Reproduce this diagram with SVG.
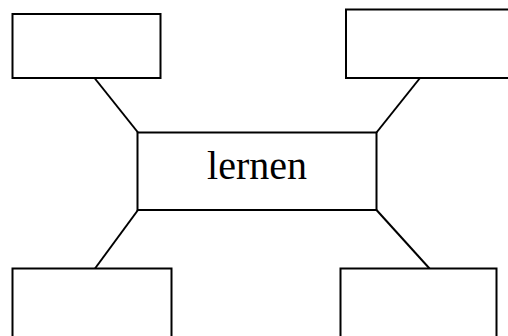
<svg xmlns="http://www.w3.org/2000/svg" width="508" height="336" viewBox="0 0 508 336">
<style>
.box{fill:#fff;stroke:#000;stroke-width:2}
.ln{stroke:#000;stroke-width:2;fill:none}
.lbl{font-family:"Liberation Serif","DejaVu Serif",serif;font-size:40px;fill:#000;text-anchor:middle}
</style>
<rect width="508" height="336" fill="#fff"/>
<g id="connectors">
<line class="ln" x1="94.5" y1="78" x2="138" y2="132.5"/>
<line class="ln" x1="420" y1="78" x2="376.5" y2="132.5"/>
<line class="ln" x1="138" y1="210" x2="95" y2="268.5"/>
<line class="ln" x1="376.5" y1="210" x2="429.5" y2="268.5"/>
</g>
<g id="node-tl"><rect class="box" x="12.5" y="14" width="148" height="64"/></g>
<g id="node-tr"><rect class="box" x="346" y="9.5" width="170" height="68.5"/></g>
<g id="node-center"><rect class="box" x="137.5" y="132.5" width="239" height="77.5"/>
<text class="lbl" x="257" y="179">lernen</text></g>
<g id="node-bl"><rect class="box" x="12.5" y="268.5" width="159" height="80"/></g>
<g id="node-br"><rect class="box" x="340.5" y="268.5" width="156" height="80"/></g>
</svg>
